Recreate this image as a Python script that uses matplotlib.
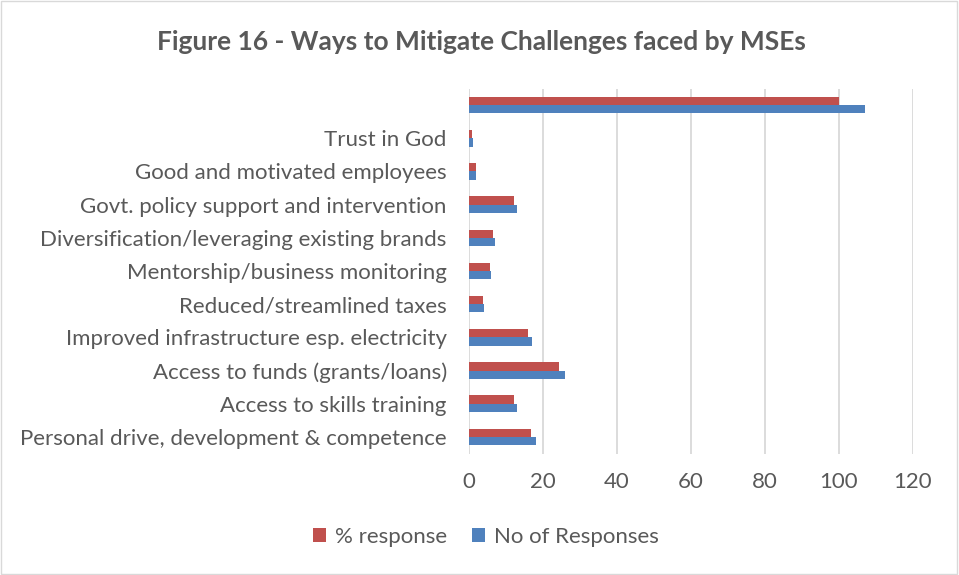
import matplotlib.pyplot as plt
from matplotlib.patches import Rectangle
import numpy as np

# Categories listed bottom to top (first entry is the total row, left unlabeled)
categories = [
    'Personal drive, development & competence',
    'Access to skills training',
    'Access to funds (grants/loans)',
    'Improved infrastructure esp. electricity',
    'Reduced/streamlined taxes',
    'Mentorship/business monitoring',
    'Diversification/leveraging existing brands',
    'Govt. policy support and intervention',
    'Good and motivated employees',
    'Trust in God',
    '',
]
no_responses = [18, 13, 26, 17, 4, 6, 7, 13, 2, 1, 107]
pct_response = [16.82, 12.15, 24.30, 15.89, 3.74, 5.61, 6.54, 12.15, 1.87, 0.93, 100]

RED = '#C0504D'
BLUE = '#4F81BD'
TEXT = '#595959'
GRID = '#D9D9D9'

plt.rcParams['font.family'] = ['Lato', 'DejaVu Sans']

fig = plt.figure(figsize=(9.59, 5.75), dpi=100)
ax = fig.add_axes([469 / 959, 1 - 453.5 / 575, (913 - 469) / 959, 365 / 575])

y = np.arange(len(categories))
h = 0.25
ax.barh(y - h / 2, no_responses, height=h, color=BLUE, label='No of Responses', zorder=3)
ax.barh(y + h / 2, pct_response, height=h, color=RED, label='% response', zorder=3)

ax.set_xlim(0, 120)
ax.set_ylim(-0.5, len(categories) - 0.5)
ax.set_xticks(range(0, 121, 20))
ax.set_yticks(y)
ax.set_yticklabels(categories)
ax.tick_params(axis='both', length=0, labelsize=16, colors=TEXT)
ax.tick_params(axis='x', pad=13)
ax.tick_params(axis='y', pad=16)
ax.grid(axis='x', color=GRID, linewidth=1.3, zorder=0)
for s in ax.spines.values():
    s.set_visible(False)

fig.text(481 / 959, 1 - 42 / 575, 'Figure 16 - Ways to Mitigate Challenges faced by MSEs',
         ha='center', va='center', fontsize=19, fontweight='bold', color=TEXT)

handles, labels = ax.get_legend_handles_labels()
fig.legend(handles[::-1], labels[::-1], loc='center', bbox_to_anchor=(486 / 959, 1 - 537 / 575),
           ncol=2, frameon=False, fontsize=16, labelcolor=TEXT, handlelength=0.6,
           handleheight=0.6, handletextpad=0.4, columnspacing=1.1)

# light frame around the whole chart
fig.patches.append(Rectangle((0.001, 0.001), 0.997, 0.997, transform=fig.transFigure,
                             fill=False, edgecolor=GRID, linewidth=1))

fig.savefig('out.png', dpi=100)
